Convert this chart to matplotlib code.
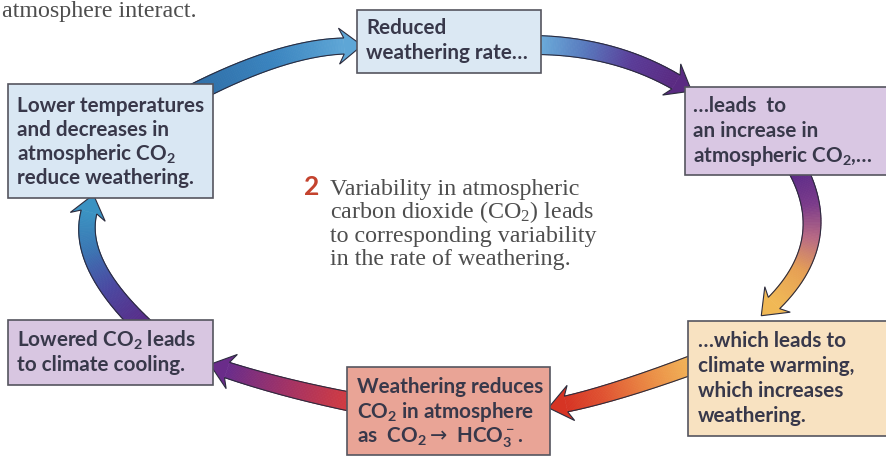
import numpy as np
import matplotlib
matplotlib.use("Agg")
import matplotlib.pyplot as plt
from matplotlib.patches import Rectangle, Polygon
from matplotlib.collections import PolyCollection
from matplotlib.colors import LinearSegmentedColormap

W, H = 886, 459

# ---- content ----
box_lines = [
    ["Reduced", "weathering rate…"],
    ["…leads  to", "an increase in", r"atmospheric CO$\mathregular{_2}$,…"],
    ["…which leads to", "climate warming,", "which increases", "weathering."],
    ["Weathering reduces", r"CO$\mathregular{_2}$ in atmosphere",
     r"as  CO$\mathregular{_2}$$\rightarrow$ HCO$\mathregular{_3^-}$."],
    [r"Lowered CO$\mathregular{_2}$ leads", "to climate cooling."],
    ["Lower temperatures", "and decreases in", r"atmospheric CO$\mathregular{_2}$",
     "reduce weathering."],
]
box_fills = ["#dbe8f3", "#d9c7e3", "#f8e2c1", "#e9a496", "#d8c6e1", "#d9e7f3"]
center_number = "2"
center_lines = ["Variability in atmospheric",
                r"carbon dioxide (CO$\mathregular{_2}$) leads",
                "to corresponding variability",
                "in the rate of weathering."]
top_caption = "atmosphere interact."
arrow_colors = [
    ["#2e6ca4", "#3a84bf", "#5ea6d6"],
    ["#6cb0dd", "#5878bd", "#5a3c98", "#5a2a82"],
    ["#5a2a88", "#7a3a8a", "#b86a84", "#e6a054", "#f0b855"],
    ["#f2bc5c", "#ea8a44", "#e05432", "#d63424"],
    ["#d83c3c", "#a43264", "#6a2c8a"],
    ["#5a2a86", "#4a4aa2", "#3a78b4", "#3a92c2"],
]

# ---- layout (pixels) ----
boxes = [(357, 10, 541, 73), (685, 87, 892, 175), (688, 321, 892, 436),
         (347, 367, 550, 455), (8, 320, 213, 385), (8, 84, 213, 198)]
text_x = [366, 693, 698, 357, 17, 17]
baselines = [[34, 59], [112, 137, 162], [347, 372, 397, 422],
             [393, 418, 443], [347, 371], [112, 136, 160, 184]]
arrow_geom = [
    ((185, 98), (279, 48), (344, 46)),
    ((535, 45), (614, 46), (676, 82)),
    ((797, 168), (836, 241), (774, 303)),
    ((700, 362), (617, 393), (566, 404)),
    ((357, 403), (285, 389), (227, 370)),
    ((145, 328), (76, 263), (89, 212)),
]

fig = plt.figure(figsize=(W / 100, H / 100), dpi=100)
ax = fig.add_axes([0, 0, 1, 1])
ax.set_xlim(0, W)
ax.set_ylim(H, 0)
ax.axis("off")
renderer = fig.canvas.get_renderer()

SANS = ["Lato", "DejaVu Sans"]
SERIF = ["Liberation Serif", "DejaVu Serif"]
BOX_WEIGHT = "bold"


def fit_size(text, family, weight, target_px, base=12.0):
    t = ax.text(0, 0, text, fontsize=base, family=family, weight=weight)
    w = t.get_window_extent(renderer).width
    t.remove()
    return base * target_px / w


box_fs = fit_size("Lower temperatures", SANS, BOX_WEIGHT, 186)
serif_fs = fit_size("to corresponding variability", SERIF, "normal", 266)


def draw_arrow(P0, P1, P2, colors, w0=19, w1=16, head_w=36, head_l=18, n=90):
    P0, P1, P2 = map(np.asarray, (P0, P1, P2))
    t = np.linspace(0, 1, n)[:, None]
    pts = (1 - t) ** 2 * P0 + 2 * (1 - t) * t * P1 + t ** 2 * P2
    d = 2 * (1 - t) * (P1 - P0) + 2 * t * (P2 - P1)
    d = d / np.linalg.norm(d, axis=1)[:, None]
    nv = np.column_stack([-d[:, 1], d[:, 0]])
    wid = (w0 + (w1 - w0) * t) / 2
    L = pts + nv * wid
    R = pts - nv * wid
    cmap = LinearSegmentedColormap.from_list("g", colors)
    polys, cols = [], []
    for i in range(n - 1):
        polys.append([L[i], L[i + 1], R[i + 1], R[i]])
        cols.append(cmap(i / (n - 2)))
    pc = PolyCollection(polys, facecolors=cols, edgecolors=cols, linewidths=0.6,
                        zorder=1)
    ax.add_collection(pc)
    u, nn = d[-1], nv[-1]
    b1 = P2 + nn * head_w / 2 - u * 5
    b2 = P2 - nn * head_w / 2 - u * 5
    tip = P2 + u * head_l
    ax.add_patch(Polygon([P2 + nn * wid[-1, 0], b1, tip, b2, P2 - nn * wid[-1, 0]],
                         closed=True, facecolor=colors[-1], edgecolor="none",
                         zorder=1.5))
    outline = np.vstack([L, [b1, tip, b2], R[::-1]])
    ax.plot(outline[:, 0], outline[:, 1], color="#2c2c3e", lw=0.8, zorder=2,
            solid_joinstyle="miter")


for (P0, P1, P2), cols in zip(arrow_geom, arrow_colors):
    draw_arrow(P0, P1, P2, cols)

for (x0, y0, x1, y1), fc, lines, tx, bls in zip(boxes, box_fills, box_lines,
                                                 text_x, baselines):
    ax.add_patch(Rectangle((x0, y0), x1 - x0, y1 - y0, facecolor=fc,
                           edgecolor="#55555f", lw=1.2, zorder=3))
    for line, by in zip(lines, bls):
        ax.text(tx, by, line, fontsize=box_fs, family=SANS, weight=BOX_WEIGHT,
                color="#38384a", va="baseline", ha="left", zorder=4)

# center caption
center_baselines = [195, 218, 242, 265]
ax.text(304, 195, center_number, fontsize=serif_fs * 1.1, family=SANS,
        weight="bold", color="#c4432e", va="baseline", ha="left", zorder=4)
for line, by in zip(center_lines, center_baselines):
    ax.text(330, by, line, fontsize=serif_fs, family=SERIF, color="#4e4e4e",
            va="baseline", ha="left", zorder=4)

ax.text(2, 17, top_caption, fontsize=serif_fs, family=SERIF, color="#4e4e4e",
        va="baseline", ha="left", zorder=4)

fig.savefig("out.png", dpi=100)
